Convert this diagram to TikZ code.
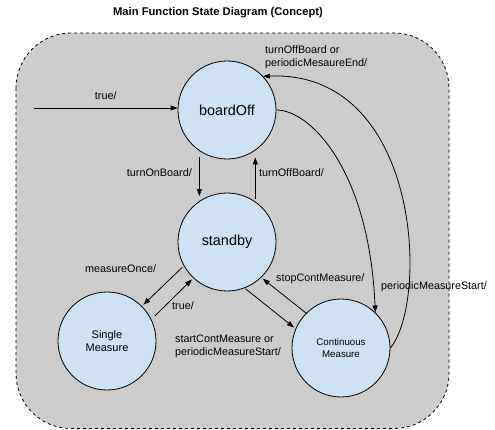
\documentclass[tikz,border=0pt]{standalone}
\usepackage{fontspec}
\setmainfont{Liberation Sans}
\usetikzlibrary{arrows.meta}
\definecolor{bggray}{HTML}{CCCCCC}
\definecolor{stateblue}{HTML}{CFE2F3}
\begin{document}
\begin{tikzpicture}[x=1pt,y=-1pt,
  state/.style={circle,draw=black,line width=0.8pt,fill=stateblue,minimum size=98pt,inner sep=0pt,align=center},
  lbl/.style={font=\fontsize{10.8}{13}\selectfont,inner sep=0pt},
  conn/.style={line width=0.8pt,-{Triangle[length=7pt,width=5pt]}}]
\useasboundingbox (0,0) rectangle (495,430);
\fill[white] (0,0) rectangle (495,430);
\node[font=\bfseries\fontsize{11.2}{13}\selectfont] (title) at (218,13) {Main Function State Diagram (Concept)};
\draw[dashed,line width=0.8pt,fill=bggray,rounded corners=55pt] (16,33) rectangle (449,428.5);
\node[state,font=\fontsize{14.4}{17}\selectfont] (boardOff) at (227,110) {boardOff};
\node[state,font=\fontsize{14.4}{17}\selectfont] (standby) at (227,242) {standby};
\node[state,font=\fontsize{11}{13.5}\selectfont] (single) at (107,341) {Single\\Measure};
\node[state,font=\fontsize{9.7}{11.5}\selectfont] (cont) at (341,348) {Continuous\\Measure};
\coordinate (init) at (34,108);
\draw[conn] (init) -- (boardOff.west |- init) node[pos=0.5,above=8pt,lbl] (l1) {true/};
\draw[conn,shorten <=6pt,shorten >=5pt] (boardOff.-124.8) -- (standby.124.8);
\draw[conn,shorten <=3pt,shorten >=7pt] (standby.55.8) -- (boardOff.-55.8);
\node[lbl,anchor=east] (l2) at (192,173) {turnOnBoard/};
\node[lbl,anchor=west] (l3) at (259,173) {turnOffBoard/};
\draw[conn,shorten <=2pt,shorten >=2pt] (standby.-151) -- (single.45);
\draw[conn,shorten <=5pt,shorten >=2pt] (single.26) -- (standby.-133);
\node[lbl,anchor=west] (l4) at (85,269) {measureOnce/};
\node[lbl,anchor=west] (l5) at (172,306) {true/};
\draw[conn,shorten <=1pt,shorten >=2pt] (standby.-69) -- (cont.157);
\draw[conn,shorten >=2pt] (cont.135) -- (standby.-46.6);
\node[lbl,anchor=west] (l6) at (276,279) {stopContMeasure/};
\node[lbl,anchor=west,align=left] (l7) at (175,346) {startContMeasure or\\periodicMeasureStart/};
\draw[conn] (boardOff.0) .. controls +(34,0) and +(-6,-142) .. (cont.46);
\node[lbl,anchor=west] (l8) at (381,287) {periodicMeasureStart/};
\draw[conn] (cont.0) .. controls +(39,-48) and +(157,-6) .. (boardOff.43);
\node[lbl,anchor=west,align=left] (l9) at (265,57) {turnOffBoard or\\periodicMesaureEnd/};
\end{tikzpicture}
\end{document}
